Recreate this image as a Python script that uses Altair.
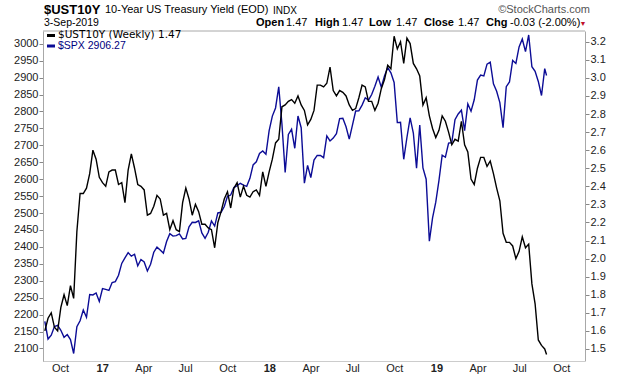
import altair as alt
import pandas as pd

# ---------------- data (weekly closes) ----------------
first_week = "2016-09-02"
week_count = 157
last_day = "2019-09-03"

spx_close = [
    2179.98, 2127.81, 2139.16, 2164.69, 2168.27, 2153.74, 2132.98, 2141.16, 2126.41, 2085.18,
    2164.45, 2181.90, 2213.35, 2191.95, 2259.53, 2258.07, 2263.79, 2238.83, 2276.98, 2274.64,
    2271.31, 2294.69, 2297.42, 2316.10, 2351.16, 2367.34, 2383.12, 2372.60, 2378.25, 2343.98,
    2362.72, 2355.54, 2328.95, 2348.69, 2384.20, 2399.29, 2390.90, 2381.73, 2415.82, 2439.07,
    2431.77, 2433.15, 2438.30, 2423.41, 2425.18, 2459.27, 2472.54, 2472.10, 2476.83, 2441.32,
    2425.55, 2443.05, 2476.55, 2461.43, 2500.23, 2502.22, 2519.36, 2549.33, 2553.17, 2575.21,
    2581.07, 2587.84, 2582.30, 2578.85, 2602.42, 2642.22, 2651.50, 2675.81, 2683.34, 2673.61,
    2743.15, 2786.24, 2810.30, 2872.87, 2762.13, 2619.55, 2732.22, 2747.30, 2691.25, 2786.57,
    2752.01, 2588.26, 2640.87, 2604.47, 2656.30, 2670.14, 2669.91, 2663.42, 2727.72, 2712.97,
    2721.33, 2734.62, 2779.03, 2779.66, 2754.88, 2718.37, 2759.82, 2801.31, 2801.83, 2818.82,
    2840.35, 2833.28, 2850.13, 2874.69, 2901.52, 2871.68, 2904.98, 2929.67, 2913.98, 2885.57,
    2767.13, 2767.78, 2658.69, 2723.06, 2781.01, 2736.27, 2632.56, 2760.17, 2633.08, 2599.95,
    2416.62, 2485.74, 2531.94, 2596.26, 2670.71, 2664.76, 2706.53, 2707.88, 2775.60, 2792.67,
    2803.69, 2743.07, 2822.48, 2800.71, 2834.40, 2892.74, 2907.41, 2905.03, 2939.88, 2945.64,
    2881.40, 2859.53, 2826.06, 2752.06, 2873.34, 2886.98, 2950.46, 2941.76, 2990.41, 3013.77,
    2976.61, 3025.86, 2932.05, 2918.65, 2888.68, 2847.11, 2926.46, 2906.27,
]

ust_yield = [
    1.60, 1.67, 1.70, 1.62, 1.60, 1.73, 1.80, 1.74, 1.85, 1.78,
    2.15, 2.36, 2.36, 2.39, 2.47, 2.60, 2.55, 2.45, 2.42, 2.40,
    2.48, 2.49, 2.49, 2.41, 2.42, 2.31, 2.49, 2.58, 2.50, 2.41,
    2.40, 2.38, 2.24, 2.25, 2.29, 2.35, 2.33, 2.24, 2.25, 2.16,
    2.21, 2.16, 2.15, 2.31, 2.39, 2.33, 2.24, 2.30, 2.26, 2.19,
    2.19, 2.17, 2.16, 2.06, 2.20, 2.26, 2.33, 2.37, 2.28, 2.39,
    2.42, 2.34, 2.40, 2.35, 2.34, 2.37, 2.38, 2.35, 2.48, 2.40,
    2.48, 2.55, 2.64, 2.66, 2.84, 2.85, 2.87, 2.88, 2.86, 2.90,
    2.85, 2.82, 2.74, 2.77, 2.82, 2.96, 2.96, 2.95, 2.97, 3.06,
    2.93, 2.90, 2.93, 2.92, 2.90, 2.85, 2.82, 2.83, 2.89, 2.96,
    2.95, 2.87, 2.87, 2.82, 2.86, 2.94, 2.99, 3.07, 3.05, 3.23,
    3.16, 3.20, 3.08, 3.22, 3.19, 3.08, 3.05, 3.01, 2.85, 2.89,
    2.79, 2.72, 2.67, 2.71, 2.79, 2.76, 2.70, 2.63, 2.66, 2.65,
    2.76, 2.63, 2.59, 2.44, 2.41, 2.50, 2.56, 2.56, 2.51, 2.54,
    2.47, 2.39, 2.32, 2.14, 2.09, 2.09, 2.07, 2.00, 2.04, 2.12,
    2.06, 2.08, 1.86, 1.75, 1.55, 1.52, 1.50, 1.47,
]

left_ticks = [2100, 2150, 2200, 2250, 2300, 2350, 2400, 2450, 2500, 2550,
              2600, 2650, 2700, 2750, 2800, 2850, 2900, 2950, 3000]
right_ticks = [1.5, 1.6, 1.7, 1.8, 1.9, 2.0, 2.1, 2.2, 2.3, 2.4,
               2.5, 2.6, 2.7, 2.8, 2.9, 3.0, 3.1, 3.2]
month_ticks = ["2016-10-01", "2017-01-01", "2017-04-01", "2017-07-01", "2017-10-01",
               "2018-01-01", "2018-04-01", "2018-07-01", "2018-10-01", "2019-01-01",
               "2019-04-01", "2019-07-01", "2019-10-01"]

assert len(spx_close) == len(ust_yield) == week_count + 1

dates = list(pd.date_range(first_week, periods=week_count, freq="7D").strftime("%Y-%m-%d")) + [last_day]
df = pd.DataFrame({"date": dates, "spx": spx_close, "ust": ust_yield})

# ---------------- layout ----------------
W, H = 542, 330
OX, OY = 43, 31          # plot origin on the page
FONT = "Liberation Sans"
BLUE = "#0c0c96"
AXIS_GRAY = "#a8a8a8"


def dt(s):
    y, m, d = map(int, s.split("-"))
    return alt.DateTime(year=y, month=m, date=d, utc=True)


x_scale = alt.Scale(type="utc", domain=[dt("2016-08-29"), dt("2019-11-26")])
x_axis = alt.Axis(
    values=[dt(s) for s in month_ticks],
    labelExpr="utcmonth(datum.value)==0 ? utcFormat(datum.value,'%y') : utcFormat(datum.value,'%b')",
    labelFontWeight={"condition": {"test": "utcmonth(datum.value)==0", "value": "bold"}, "value": "normal"},
    tickSize=0, labelPadding=1, labelOffset=2,
    domainDash=[1, 1], domainColor="#999999",
    grid=False, title=None, labelFontSize=11, labelColor="#222222",
    labelFlush=False, labelOverlap=False,
)
x_enc = alt.X("date:T", scale=x_scale, axis=x_axis)

base = alt.Chart(df)

spx_line = base.mark_line(color=BLUE, strokeWidth=1.4).encode(
    x=x_enc,
    y=alt.Y("spx:Q",
            scale=alt.Scale(domain=[2063.0, 3037.6], nice=False, zero=False),
            axis=alt.Axis(orient="left", values=left_ticks, format="d", title=None, grid=False,
                          tickSize=4, labelPadding=1, tickColor="#888888",
                          domainColor=AXIS_GRAY, labelFontSize=11, labelColor="#222222",
                          labelFlush=False, labelOverlap=False)),
)

ust_line = base.mark_line(color="black", strokeWidth=1.4).encode(
    x=x_enc,
    y=alt.Y("ust:Q",
            scale=alt.Scale(domain=[1.4335, 3.2593], nice=False, zero=False),
            axis=alt.Axis(orient="right", values=right_ticks, format=".1f", title=None,
                          grid=False, tickSize=4, labelPadding=1, tickColor="#888888",
                          domainColor=AXIS_GRAY, labelFontSize=11, labelColor="#222222",
                          labelFlush=False, labelOverlap=False)),
)

one = pd.DataFrame({"k": [0]})


def label(text, x_abs, y_abs, size=11, weight="normal", color="#000000", align="left", font=FONT):
    return alt.Chart(one).mark_text(
        align=align, baseline="middle", fontSize=size, fontWeight=weight, color=color, font=font
    ).encode(x=alt.value(x_abs - OX), y=alt.value(y_abs - OY), text=alt.value(text))


def hrule(x1_abs, x2_abs, y_abs, color, width):
    return alt.Chart(one).mark_rule(color=color, strokeWidth=width).encode(
        x=alt.value(x1_abs - OX), x2=alt.value(x2_abs - OX), y=alt.value(y_abs - OY))


top_frame = hrule(OX, OX + W, OY, AXIS_GRAY, 1)

header = [
    label("$UST10Y", 44, 10, size=13, weight="bold"),
    label("10-Year US Treasury Yield (EOD)", 105, 10, size=11),
    label("INDX", 273, 10.5, size=10),
    label("3-Sep-2019", 44, 23, size=10.5),
    label("Open", 256, 23, weight="bold"),
    label("1.47", 286, 23),
    label("High", 315, 23, weight="bold"),
    label("1.47", 342, 23),
    label("Low", 369, 23, weight="bold"),
    label("1.47", 396, 23),
    label("Close", 424, 23, weight="bold"),
    label("1.47", 458, 23),
    label("Chg", 486, 23, weight="bold"),
    label("-0.03 (-2.00%)", 510, 23),
    label("\u25BC", 583, 23.5, size=7, color="#c0102a", align="center"),
    label("\u00A9StockCharts.com", 590, 10, size=11, color="#555555", align="right"),
]

legend = [
    hrule(47, 55, 35.5, "black", 3),
    label("$UST10Y (Weekly) 1.47", 58, 35.4, size=10.5, font="DejaVu Sans"),
    hrule(47, 55, 46, BLUE, 3),
    label("$SPX 2906.27", 58, 46.4, size=10.5, color="#000080"),
]

chart = alt.layer(spx_line, ust_line, top_frame, *header, *legend).resolve_scale(
    y="independent"
).properties(
    width=W, height=H,
    padding={"left": OX, "top": OY, "right": 620 - OX - W, "bottom": 376 - OY - H},
    autosize=alt.AutoSizeParams(type="none"),
    background="white",
).configure_view(stroke=None).configure_axis(labelFont=FONT)

chart.save("out.html", embed_options={"renderer": "svg", "actions": False})
